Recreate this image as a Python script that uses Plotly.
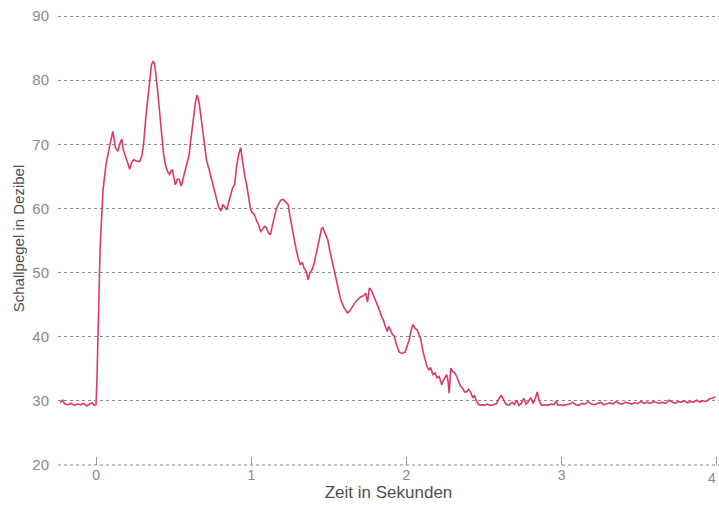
import plotly.graph_objects as go

# Time in seconds and sound level in dB
zeit = [
    -0.23, -0.215, -0.20, -0.18, -0.16, -0.14, -0.12, -0.10, -0.08, -0.06, -0.04, -0.025, -0.012,
    0.0, 0.006, 0.026, 0.045, 0.064, 0.089, 0.108, 0.125, 0.140, 0.155, 0.166, 0.175, 0.185, 0.20,
    0.217, 0.23, 0.243, 0.26, 0.281, 0.295, 0.306, 0.32, 0.332, 0.345, 0.357, 0.368, 0.377, 0.396,
    0.41, 0.421, 0.435, 0.447, 0.46, 0.472, 0.491, 0.50, 0.511, 0.525, 0.536, 0.549, 0.56, 0.574,
    0.600, 0.612, 0.625, 0.640, 0.651, 0.662, 0.670, 0.696, 0.712, 0.728, 0.745, 0.759, 0.775,
    0.791, 0.805, 0.817, 0.83, 0.842, 0.855, 0.868, 0.880, 0.893, 0.905, 0.919, 0.932, 0.94, 0.951,
    0.96, 0.970, 0.985, 0.996, 1.008, 1.021, 1.035, 1.047, 1.06, 1.072, 1.085, 1.098, 1.11, 1.123,
    1.135, 1.149, 1.162, 1.174, 1.19, 1.206, 1.222, 1.238, 1.25, 1.264, 1.277, 1.289, 1.30, 1.315,
    1.328, 1.340, 1.352, 1.366, 1.378, 1.391, 1.405, 1.417, 1.43, 1.442, 1.452, 1.461, 1.475, 1.493,
    1.505, 1.519, 1.53, 1.544, 1.56, 1.576, 1.598, 1.621, 1.634, 1.646, 1.665, 1.685, 1.705, 1.723,
    1.737, 1.749, 1.761, 1.774, 1.787, 1.805, 1.825, 1.838, 1.851, 1.865, 1.876, 1.885, 1.895, 1.908,
    1.921, 1.935, 1.953, 1.97, 1.991, 2.005, 2.017, 2.03, 2.042, 2.055, 2.068, 2.08, 2.093, 2.105,
    2.119, 2.13, 2.144, 2.155, 2.170, 2.185, 2.195, 2.21, 2.227, 2.24, 2.259, 2.268, 2.275, 2.285,
    2.297, 2.310, 2.323, 2.336, 2.348, 2.361, 2.374, 2.387, 2.40, 2.412, 2.425, 2.438, 2.45, 2.463,
    2.476, 2.489, 2.50, 2.52, 2.54, 2.56, 2.58, 2.595, 2.61, 2.625, 2.64, 2.66, 2.68, 2.695, 2.71,
    2.725, 2.74, 2.755, 2.77, 2.785, 2.80, 2.815, 2.83, 2.842, 2.855, 2.87, 2.89, 2.91, 2.93, 2.95,
    2.965, 2.975, 2.99, 3.01, 3.03, 3.05, 3.07, 3.09, 3.11, 3.13, 3.15, 3.17, 3.19, 3.21, 3.23, 3.25,
    3.27, 3.29, 3.31, 3.33, 3.35, 3.37, 3.39, 3.41, 3.43, 3.45, 3.47, 3.49, 3.51, 3.53, 3.55, 3.57,
    3.59, 3.61, 3.63, 3.65, 3.67, 3.69, 3.71, 3.73, 3.75, 3.77, 3.79, 3.81, 3.83, 3.85, 3.87, 3.89,
    3.91, 3.93, 3.95, 3.97, 3.99,
]
schallpegel = [
    29.7, 30.1, 29.5, 29.4, 29.6, 29.3, 29.5, 29.4, 29.6, 29.2, 29.5, 29.7, 29.3,
    29.4, 33.3, 53.6, 62.9, 66.8, 69.9, 72.0, 69.5, 68.9, 70.2, 70.8, 69.2, 68.4, 67.5,
    66.1, 67.2, 67.6, 67.4, 67.3, 68.2, 69.9, 74.0, 77.0, 80.5, 82.4, 82.9, 82.6, 78.5,
    74.5, 71.5, 68.5, 66.8, 65.8, 65.3, 66.1, 65.0, 63.7, 64.6, 64.5, 63.5, 64.6, 66.1,
    68.4, 71.0, 73.8, 76.5, 77.7, 76.8, 75.4, 70.0, 67.5, 66.1, 64.5, 63.0, 61.2,
    60.1, 59.6, 60.6, 60.2, 59.8, 61.0, 62.1, 63.2, 63.7, 66.5, 68.4, 69.5, 68.0, 66.1,
    64.8, 63.7, 61.5, 59.8, 59.3, 59.0, 58.0, 57.5, 56.4, 56.7, 57.2, 57.0, 56.2, 55.9,
    57.2, 58.5, 60.0, 60.6, 61.3, 61.4, 61.0, 60.6, 58.7, 56.7, 55.0, 53.6, 52.5, 51.2,
    51.6, 50.7, 50.3, 48.9, 50.0, 50.4, 51.4, 52.8, 54.5, 55.9, 56.8, 57.0, 56.2, 55.1,
    53.5, 52.0, 50.5, 48.9, 47.2, 45.8, 44.5, 43.7, 44.0, 44.5, 45.2, 45.8, 46.2, 46.4,
    46.8, 45.4, 47.6, 47.2, 46.5, 45.5, 44.2, 43.2, 42.6, 41.5, 40.8, 41.6, 41.1, 40.4,
    40.1, 38.8, 37.6, 37.4, 37.6, 38.5, 39.5, 41.0, 41.9, 41.3, 41.1, 40.4, 39.5, 37.8,
    36.4, 35.5, 34.8, 35.2, 34.1, 34.3, 33.6, 33.8, 32.5, 33.3, 34.1, 33.0, 31.2, 35.1,
    34.6, 34.4, 33.8, 33.0, 32.3, 32.0, 31.4, 31.4, 31.8, 31.4, 30.6, 30.8, 30.0, 29.5,
    29.3, 29.4, 29.3, 29.5, 29.3, 29.4, 29.6, 30.3, 30.9, 30.2, 29.5, 29.3, 29.8, 29.4, 30.1,
    29.3, 29.6, 30.4, 29.5, 29.9, 30.5, 29.6, 30.4, 31.4, 30.0, 29.3, 29.4, 29.3, 29.5, 29.4,
    30.0, 29.3, 29.4, 29.3, 29.4, 29.5, 29.8, 29.4, 29.3, 29.6, 29.5, 29.9, 29.5, 29.4, 29.6, 29.8,
    29.4, 29.5, 29.7, 29.5, 29.9, 29.6, 29.5, 29.8, 29.6, 29.5, 29.7, 29.6, 29.9, 29.6, 29.8, 29.6,
    29.9, 29.7, 29.6, 29.8, 29.6, 30.1, 29.8, 29.6, 29.9, 29.8, 30.0, 29.7, 29.9, 29.8, 30.1, 29.8,
    30.0, 29.9, 30.3, 30.4, 30.6,
]

x_ticks = [0, 1, 2, 3, 4]
y_ticks = [20, 30, 40, 50, 60, 70, 80, 90]

grid_color = "#8c8c8c"
tick_font = dict(family="Liberation Sans, Arial, sans-serif", size=14, color="#8a8a8a")

fig = go.Figure()
fig.add_trace(go.Scatter(
    x=zeit, y=schallpegel, mode="lines",
    line=dict(color="#e0386c", width=1.6),
    showlegend=False, hoverinfo="skip",
))

# baseline (20 dB) drawn as a dotted line along the bottom edge of the plot
fig.add_shape(
    type="line", xref="paper", yref="paper", x0=0, x1=1, y0=0, y1=0,
    line=dict(color=grid_color, width=1, dash="dot"), layer="below",
)

# last x tick label sits at the right edge; keep it fully inside the picture
fig.add_annotation(
    x=x_ticks[-1], xref="x", y=0, yref="paper",
    text=str(x_ticks[-1]), showarrow=False,
    xanchor="right", yanchor="top", yshift=-3, xshift=1,
    font=tick_font,
)

font_family = "Liberation Sans, Arial, sans-serif"
fig.update_layout(
    width=719, height=506,
    margin=dict(l=58, r=0, t=12, b=41, autoexpand=False),
    paper_bgcolor="white", plot_bgcolor="white",
    font=dict(family=font_family, color="#8a8a8a", size=14),
    xaxis=dict(
        range=[-0.245, 4.013],
        tickvals=x_ticks,
        ticktext=[str(v) for v in x_ticks],
        ticks="inside", ticklen=8, tickwidth=1, tickcolor="#999999",
        showgrid=False, zeroline=False, showline=False,
        tickfont=tick_font,
        title=dict(text="Zeit in Sekunden", standoff=2,
                   font=dict(size=17, color="#505050")),
    ),
    yaxis=dict(
        range=[20, 90.624],
        tickvals=y_ticks,
        ticktext=[str(v) for v in y_ticks],
        showgrid=True, gridcolor=grid_color, gridwidth=1, griddash="dot",
        zeroline=False, showline=False,
        ticks="outside", ticklen=5, tickcolor="rgba(0,0,0,0)",
        tickfont=dict(family=font_family, size=15, color="#8a8a8a"),
        title=dict(text="Schallpegel in Dezibel", standoff=4,
                   font=dict(size=15, color="#505050")),
    ),
)

fig.write_html(
    "out.html",
    config={"displayModeBar": False},
    post_script="document.body.style.margin='0';document.body.style.overflow='hidden';",
)
